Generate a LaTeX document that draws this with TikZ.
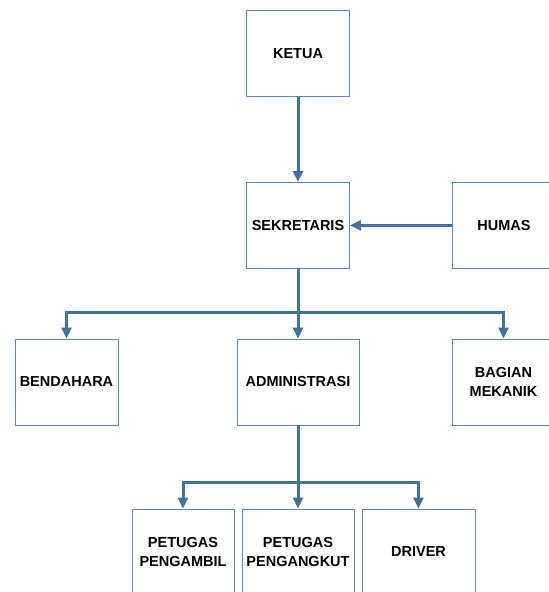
\documentclass[tikz,border=0pt]{standalone}
\usepackage{fontspec}
\setmainfont{Liberation Sans}
\usetikzlibrary{positioning, arrows.meta, calc}
\definecolor{orgline}{HTML}{41719C}
\definecolor{orgbox}{HTML}{5B87B5}

\begin{document}
\begin{tikzpicture}[
         x=1pt, y=-1pt,
         box/.style={rectangle, draw=orgbox, line width=0.9pt, fill=white,
            minimum width=103pt, minimum height=86pt, align=center,
            font=\fontsize{14.5}{18.5}\selectfont\bfseries, inner sep=1pt},
         link/.style={draw=orgline, line width=3pt},
         arrow/.style={link, -{Triangle[width=10pt,length=11pt]}}
      ]
         \useasboundingbox (0,0) rectangle (549,592);

         % Nodes for positions
         \node[box] (ketua) at (298,53.5) {KETUA};
         \node[box] (sekretaris) [below=85pt of ketua] {SEKRETARIS};
         \node[box] (humas) [right=102pt of sekretaris] {HUMAS};
         \node[box] (bendahara) at (66.5,382) {BENDAHARA};
         \node[box, minimum width=122pt] (admin) at (298,382) {ADMINISTRASI};
         \node[box] (mekanik) at (503.5,382) {BAGIAN\\MEKANIK};
         \node[box, minimum width=102pt] (pengambil) at (183,552) {PETUGAS\\PENGAMBIL};
         \node[box, minimum width=112pt] (pengangkut) at (298,552) {PETUGAS\\PENGANGKUT};
         \node[box, minimum width=113pt] (driver) at (418.5,552) {DRIVER};

         % Split points
         \coordinate (split1) at ($(sekretaris.south)+(0,44)$);
         \coordinate (split2) at ($(admin.south)+(0,57)$);

         % Arrows
         \draw[arrow] (ketua) -- (sekretaris);
         \draw[arrow] (humas) -- (sekretaris);
         \draw[link] (sekretaris.south) -- (split1);
         \draw[arrow] (split1) -| (bendahara);
         \draw[arrow] (split1) -- (admin);
         \draw[arrow] (split1) -| (mekanik);
         \draw[link] (admin.south) -- (split2);
         \draw[arrow] (split2) -| (pengambil);
         \draw[arrow] (split2) -- (pengangkut);
         \draw[arrow] (split2) -| (driver);
      \end{tikzpicture}
\end{document}
